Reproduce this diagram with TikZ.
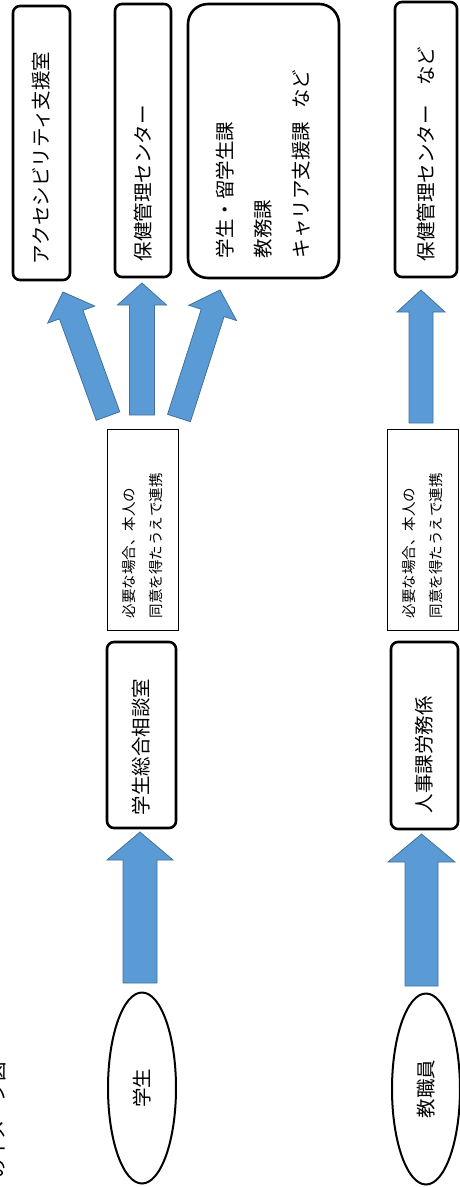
\documentclass[tikz,border=0pt]{standalone}
\usepackage{fontspec}
\newfontfamily\jp{Noto Sans CJK JP}
\usetikzlibrary{calc,shapes.geometric}
\definecolor{arrfill}{RGB}{91,155,213}
\definecolor{arrdraw}{RGB}{65,113,156}
\newcommand\blockarrow[5]{%
  \coordinate (hb) at ($(#2)!#5!(#1)$);
  \filldraw[fill=arrfill,draw=arrdraw,line width=0.8pt,line join=miter]
    ($(#1)!#3!90:(#2)$) -- ($(hb)!#3!90:(#2)$) -- ($(hb)!#4!90:(#2)$) -- (#2)
    -- ($(hb)!#4!-90:(#2)$) -- ($(hb)!#3!-90:(#2)$) -- ($(#1)!#3!-90:(#2)$) -- cycle;
}
\tikzset{
  bigfont/.style={font=\jp\fontsize{19.5}{38}\selectfont},
  rbox/.style={draw,line width=2.6pt,rounded corners=7pt,rotate=90,bigfont,
    align=left,inner xsep=16pt,inner ysep=0pt},
  cbox/.style={draw,line width=0.8pt,rotate=90,font=\jp\fontsize{14.5}{27}\selectfont,
    align=left,inner xsep=12pt,inner ysep=0pt,minimum height=71pt,text width=177pt},
  oval/.style={draw,ellipse,line width=2pt,rotate=90,bigfont,inner sep=0pt,
    minimum width=191pt,minimum height=68pt},
}
\begin{document}
\begin{tikzpicture}[x=1pt,y=-1pt]
\useasboundingbox (0,0) rectangle (459,1187);
% title (mostly outside the page)
\node[rotate=90,bigfont,anchor=east,inner sep=0pt] (title) at (-2,1062) {のイメージ図};
% top boxes
\node[rbox,text width=242pt,minimum height=57pt] (acc) at (41.5,143) {アクセシビリティ支援室};
\node[rbox,text width=241pt,minimum height=56pt] (hok1) at (143,140.5) {保健管理センター};
\node[rbox,rounded corners=20pt,text width=234pt,inner xsep=20pt,minimum height=151pt] (gak) at (263.5,141)
  {学生・留学生課\\教務課\\キャリア支援課\hspace{13pt}など};
\node[rbox,text width=243pt,minimum height=62pt] (hok2) at (426,139.5) {保健管理センター　など};
% consent boxes
\node[cbox] (c1) at (142.5,529.5) {必要な場合、本人の\\同意を得たうえで連携};
\node[cbox] (c2) at (422.5,529.5) {必要な場合、本人の\\同意を得たうえで連携};
% middle boxes
\node[rbox,text width=160pt,inner xsep=13pt,minimum height=69pt] (sodan) at (141.5,735) {学生総合相談室};
\node[rbox,text width=155pt,minimum height=67pt] (jinji) at (424.5,735.5) {人事課労務係};
% ovals
\node[oval] (st) at (142,1088) {学生};
\node[oval] (sf) at (426,1089) {教職員};
% arrow end points
\coordinate (s1a) at (140,983); \coordinate (s1b) at (140,832);
\coordinate (s2a) at (421.5,986); \coordinate (s2b) at (421.5,834);
\coordinate (t1a) at (108,416); \coordinate (t1b) at (63,292);
\coordinate (t2a) at (142,415); \coordinate (t2b) at (142,283);
\coordinate (t3a) at (179,418); \coordinate (t3b) at (220,290);
\coordinate (t4a) at (421,423); \coordinate (t4b) at (421,290);
\blockarrow{s1a}{s1b}{17pt}{33pt}{28pt}
\blockarrow{s2a}{s2b}{16.5pt}{33.5pt}{28pt}
\blockarrow{t1a}{t1b}{12.5pt}{25pt}{24pt}
\blockarrow{t2a}{t2b}{12.5pt}{24.5pt}{22pt}
\blockarrow{t3a}{t3b}{12pt}{25pt}{24pt}
\blockarrow{t4a}{t4b}{12pt}{24pt}{22pt}
\end{tikzpicture}
\end{document}
